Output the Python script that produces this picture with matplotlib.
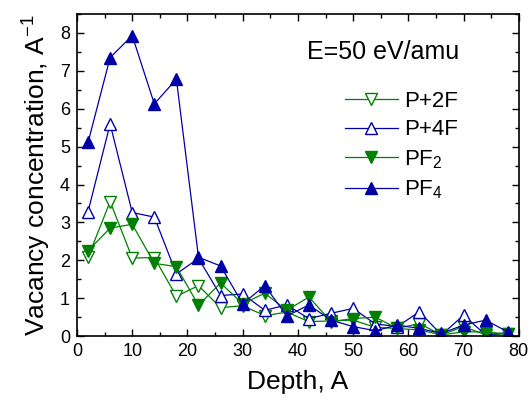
import matplotlib
matplotlib.use("Agg")
import matplotlib.pyplot as plt
from matplotlib.ticker import MultipleLocator

plt.rcParams['font.family'] = ['Liberation Sans', 'DejaVu Sans']
plt.rcParams['mathtext.fontset'] = 'custom'
plt.rcParams['mathtext.rm'] = 'Liberation Sans'
plt.rcParams['mathtext.it'] = 'Liberation Sans'
plt.rcParams['mathtext.default'] = 'regular'

depth = [2, 6, 10, 14, 18, 22, 26, 30, 34, 38, 42, 46, 50, 54, 58, 62, 66, 70, 74, 78]
p2f = [2.08, 3.55, 2.06, 2.07, 1.05, 1.33, 0.75, 0.8, 0.54, 0.63, 0.38, 0.4, 0.42, 0.23, 0.2, 0.33, 0.03, 0.25, 0.03, 0.06]
p4f = [3.28, 5.6, 3.26, 3.14, 1.64, 2.05, 1.07, 1.11, 0.68, 0.82, 0.46, 0.6, 0.73, 0.32, 0.25, 0.64, 0.03, 0.55, 0.03, 0.09]
pf2 = [2.25, 2.85, 2.95, 1.92, 1.83, 0.81, 1.4, 0.85, 1.13, 0.68, 1.03, 0.38, 0.46, 0.5, 0.2, 0.16, 0.03, 0.11, 0.11, 0.05]
pf4 = [5.11, 7.35, 7.93, 6.13, 6.78, 2.08, 1.85, 0.85, 1.33, 0.53, 0.82, 0.42, 0.25, 0.14, 0.29, 0.2, 0.07, 0.29, 0.42, 0.11]

green = '#008000'
blue = '#0000A8'

fig = plt.figure(figsize=(5.31, 4.01), dpi=100)
ax = fig.add_axes([0.145, 0.162, 0.832, 0.803])

ms = 9
ax.plot(depth, p2f, color=green, lw=0.9, marker='v', ms=ms, mfc='white', mec=green, mew=1.0, label='P+2F')
ax.plot(depth, p4f, color=blue, lw=0.9, marker='^', ms=ms, mfc='white', mec=blue, mew=1.0, label='P+4F')
ax.plot(depth, pf2, color=green, lw=0.9, marker='v', ms=ms, mfc=green, mec=green, label='PF$_2$')
ax.plot(depth, pf4, color=blue, lw=0.9, marker='^', ms=ms, mfc=blue, mec=blue, label='PF$_4$')

ax.set_xlim(0, 80)
ax.set_ylim(0, 8.5)
ax.xaxis.set_major_locator(MultipleLocator(10))
ax.xaxis.set_minor_locator(MultipleLocator(5))
ax.yaxis.set_major_locator(MultipleLocator(1))
ax.yaxis.set_minor_locator(MultipleLocator(0.5))
ax.tick_params(which='both', direction='in', top=True, right=True, width=1.0)
ax.tick_params(which='major', length=5, labelsize=13)
ax.tick_params(which='minor', length=3)
ax.tick_params(axis='x', pad=5)
ax.tick_params(axis='y', pad=5)
for s in ax.spines.values():
    s.set_linewidth(1.2)

ax.set_xlabel('Depth, A', fontsize=19, labelpad=7)
ax.set_ylabel('Vacancy concentration, A$^{-1}$', fontsize=19, labelpad=5)

ax.text(0.52, 0.882, 'E=50 eV/amu', transform=ax.transAxes, fontsize=18, va='center', ha='left')
ax.legend(loc='upper left', bbox_to_anchor=(0.586, 0.79), frameon=False, fontsize=16,
          handlelength=2.4, handletextpad=0.25, labelspacing=0.35, borderaxespad=0)

fig.savefig('out.png', dpi=100)
